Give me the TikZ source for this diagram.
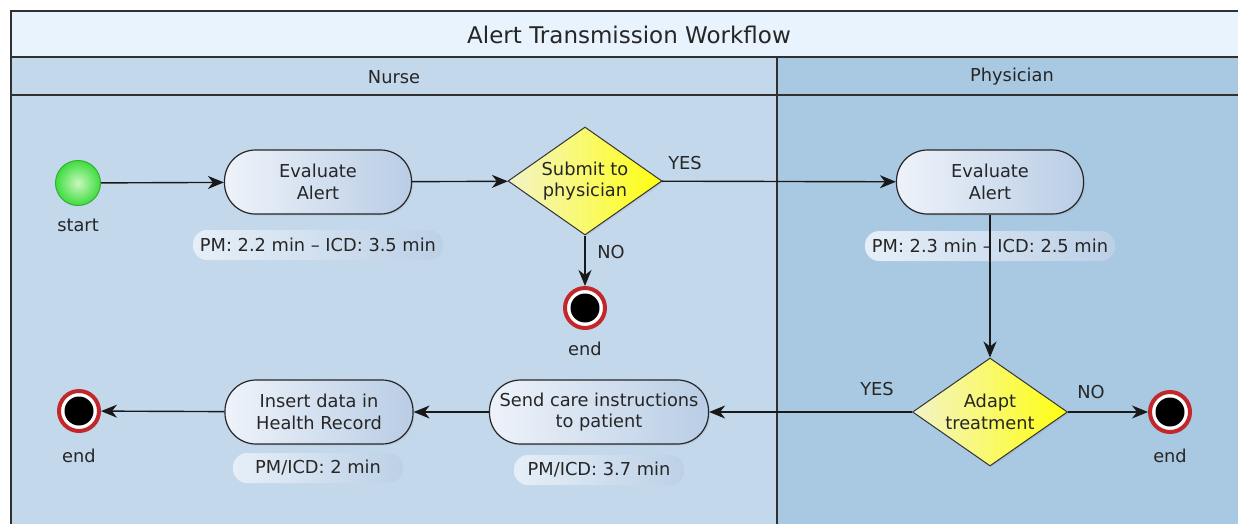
\documentclass[tikz,border=0pt]{standalone}
\usepackage{fontspec}
\setmainfont{DejaVu Sans}
\usetikzlibrary{shapes.geometric,arrows.meta,shadows}
\definecolor{titlebg}{HTML}{E9F3FD}
\definecolor{nursebg}{HTML}{C4D8EC}
\definecolor{physbg}{HTML}{A9C8E1}
\definecolor{framec}{HTML}{303030}
\definecolor{boxl}{HTML}{EEF3FA}
\definecolor{boxr}{HTML}{B9CDE5}
\definecolor{diaml}{HTML}{F3F3C8}
\definecolor{diamr}{HTML}{FFFF10}
\definecolor{endred}{HTML}{C2282B}
\definecolor{pilll}{HTML}{E6EFF8}
\definecolor{pillr}{HTML}{BCD0E6}
\definecolor{startin}{HTML}{C8F8BC}
\definecolor{startout}{HTML}{3FDC3F}
\definecolor{startdraw}{HTML}{33B033}
\tikzset{
  lbl/.style={font=\fontsize{17.8}{21.5}\selectfont, text=black!85},
  actbox/.style={lbl, draw=black!85, line width=1.2pt, rounded corners=31pt,
    left color=boxl, right color=boxr, minimum height=64pt, align=center,
    inner sep=0pt, drop shadow={opacity=0.15, shadow xshift=1.5pt, shadow yshift=-1.5pt}},
  decbox/.style={lbl, diamond, aspect=1.43, draw=black!80, line width=1pt, left color=diaml, right color=diamr,
    minimum width=154pt, minimum height=108pt, inner sep=0pt, align=center,
    drop shadow={opacity=0.15, shadow xshift=1.5pt, shadow yshift=-1.5pt}},
  pill/.style={lbl, rounded corners=14pt, left color=pilll, right color=pillr,
    minimum height=30pt, inner sep=0pt},
  startnode/.style={circle, minimum size=45pt, inner sep=0pt, inner color=startin,
    outer color=startout, draw=startdraw, line width=1pt},
  endnode/.style={circle, minimum size=40pt, inner sep=0pt, fill=white, draw=endred,
    line width=4pt, path picture={\fill[black] (path picture bounding box.center) circle (14.5pt);},
    drop shadow={opacity=0.2, shadow xshift=1.5pt, shadow yshift=-1.5pt}},
  flow/.style={line width=1.4pt, black!90, -{Stealth[length=16pt,width=13pt,inset=5pt]}},
}
\begin{document}
\begin{tikzpicture}[x=1pt,y=-1pt]
\useasboundingbox (0,0) rectangle (1238,523);
\clip (0,0) rectangle (1238,523);
% background
\fill[white] (0,0) rectangle (1238,523);
\fill[titlebg] (11,11) rectangle (1250,57);
\fill[nursebg] (11,57) rectangle (777,540);
\fill[physbg] (777,57) rectangle (1250,540);
\draw[framec, line width=1.5pt] (1250,11) -- (11,11) -- (11,540);
\draw[framec, line width=1.5pt] (11,57) -- (1250,57);
\draw[framec, line width=1.5pt] (11,95) -- (1250,95);
\draw[framec, line width=1.5pt] (777,57) -- (777,540);
\node[font=\fontsize{23}{27}\selectfont, text=black!85] (title) at (629,35) {Alert Transmission Workflow};
\node[lbl] (nurse) at (394,77) {Nurse};
\node[lbl] (phys) at (1012,77) {Physician};

% nodes
\node[startnode] (start) at (78,183) {};
\node[lbl] (startl) at (78,225) {start};

\node[actbox, minimum width=187pt] (eval1) at (318,182) {Evaluate\\Alert};
\node[pill, minimum width=250pt] (eval1p) at (318,245) {PM: 2.2 min – ICD: 3.5 min};

\node[decbox] (submit) at (585,181) {Submit to\\physician};
\node[lbl] (yes1) at (685,163) {YES};
\node[lbl] (no1) at (611,252) {NO};

\node[endnode] (end1) at (585,308) {};
\node[lbl] (end1l) at (585,349) {end};

\node[actbox, minimum width=187pt] (eval2) at (990,182) {Evaluate\\Alert};

\node[decbox, minimum width=155pt] (adapt) at (990,412) {Adapt\\treatment};
\node[lbl] (yes2) at (877,389) {YES};
\node[lbl] (no2) at (1091,392) {NO};

\node[endnode] (end3) at (1170,412) {};
\node[lbl] (end3l) at (1170,456) {end};

\node[actbox, minimum width=219pt] (send) at (599,412) {Send care instructions\\to patient};
\node[pill, minimum width=170pt] (sendp) at (599,470) {PM/ICD: 3.7 min};

\node[actbox, minimum width=188pt] (insert) at (319,412) {Insert data in\\Health Record};
\node[pill, minimum width=170pt] (insertp) at (318,468) {PM/ICD: 2 min};

\node[endnode] (end2) at (79,411) {};
\node[lbl] (end2l) at (79,456) {end};

% connectors
\draw[flow] (start) -- (eval1);
\draw[flow] (eval1) -- (submit);
\draw[flow] (submit) -- (eval2);
\draw[flow] (submit) -- (end1);
\draw[flow] (eval2) -- (adapt);
\draw[flow] (adapt) -- (end3);
\draw[flow] (adapt) -- (send);
\draw[flow] (send) -- (insert);
\draw[flow] (insert) -- (end2);

% pill over the vertical line
\node[pill, minimum width=250pt] (eval2p) at (990,246) {PM: 2.3 min – ICD: 2.5 min};
\draw[line width=1.4pt, black!90] (eval2p.north -| eval2.south) -- (eval2p.south -| eval2.south);
\end{tikzpicture}
\end{document}
